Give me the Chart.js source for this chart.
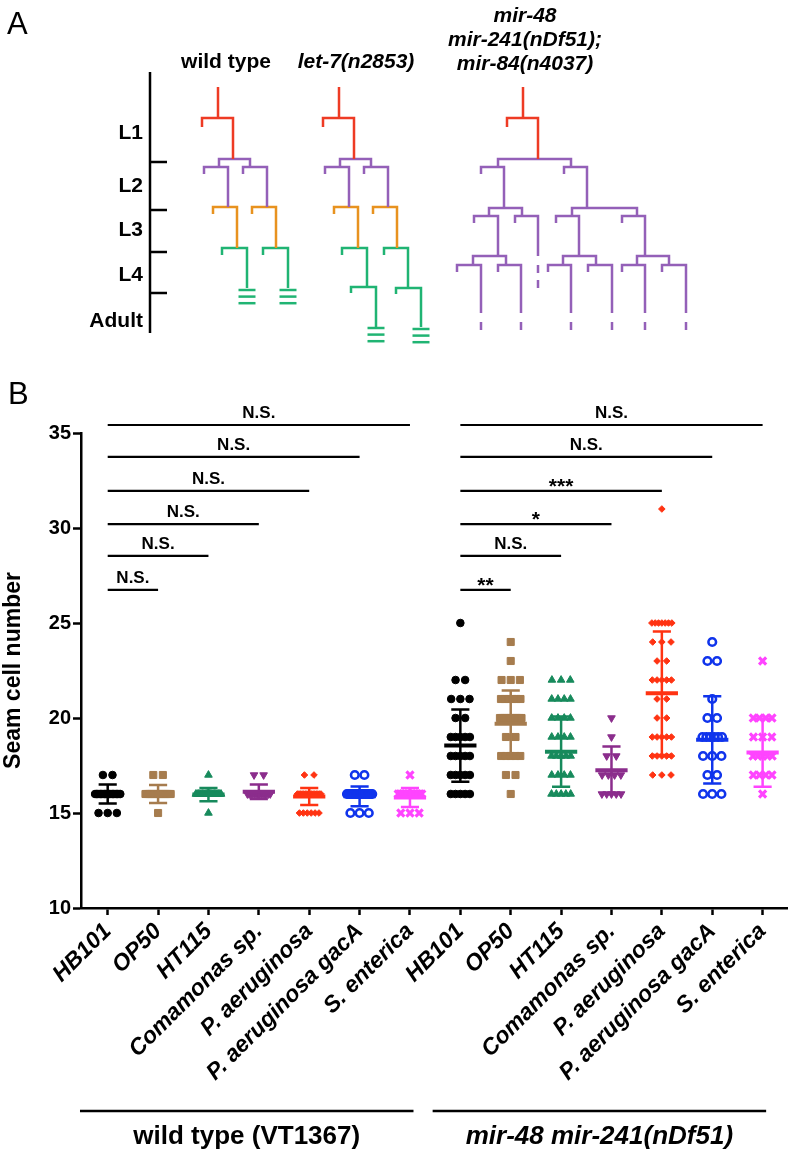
<!DOCTYPE html>
<html>
<head>
<meta charset="utf-8">
<script src="https://cdn.jsdelivr.net/npm/chart.js@4.4.1/dist/chart.umd.min.js"></script>
<style>
  html, body { margin: 0; padding: 0; background: #fff; }
  body { width: 796px; height: 1160px; position: relative; overflow: hidden;
         font-family: "Liberation Sans", Arial, Helvetica, sans-serif; color: #000; }
  .box { position: absolute; left: 0; }
  #boxA { top: 0; width: 796px; height: 350px; }
  #boxB { top: 380px; width: 796px; height: 780px; }
  .panel { position: absolute; font-size: 31px; line-height: 31px; }
  .head { position: absolute; font-weight: bold; font-size: 21px; line-height: 24px; text-align: center; }
</style>
</head>
<body>

<div class="box" id="boxA"><canvas id="chartA" width="796" height="350"></canvas></div>
<div class="box" id="boxB"><canvas id="chartB" width="796" height="780"></canvas></div>

<div class="panel" style="left:7px; top:8px;">A</div>
<div class="panel" style="left:8px; top:378px;">B</div>
<div class="head" style="left:156px; top:49px; width:140px;">wild type</div>
<div class="head" style="left:286px; top:49px; width:140px;"><i>let-7(n2853)</i></div>
<div class="head" style="left:415px; top:3px; width:220px;"><i>mir-48<br>mir-241(nDf51);<br>mir-84(n4037)</i></div>

<script>
const FONT = '"Liberation Sans", Arial, Helvetica, sans-serif';

// ---------- panel B data ----------
const bacteria = ['HB101', 'OP50', 'HT115', 'Comamonas sp.', 'P. aeruginosa', 'P. aeruginosa gacA', 'S. enterica'];
const strains = ['wild type (VT1367)', 'mir-48 mir-241(nDf51)'];
const categories = bacteria.concat(bacteria);

// seam cell number -> number of animals, per bacterium
const wtCounts = [
  [[17, 2], [16, 20], [15, 3]],
  [[17, 2], [16, 20], [15, 1]],
  [[17, 1], [16, 20], [15, 1]],
  [[17, 2], [16, 14]],
  [[17, 2], [16, 16], [15, 6]],
  [[17, 2], [16, 20], [15, 3]],
  [[17, 1], [16, 16], [15, 3]]
];
const mutCounts = [
  [[25, 1], [22, 2], [21, 3], [20, 2], [19, 5], [18, 5], [17, 5], [16, 5]],
  [[24, 1], [23, 1], [22, 3], [21, 6], [20, 11], [19, 2], [18, 5], [17, 2], [16, 1]],
  [[22, 3], [21, 4], [20, 4], [19, 4], [18, 5], [17, 4], [16, 5]],
  [[20, 1], [19, 1], [18, 2], [17, 4], [16, 5]],
  [[31, 1], [25, 7], [24, 3], [23, 2], [22, 5], [21, 2], [20, 2], [19, 5], [18, 5], [17, 3]],
  [[24, 1], [23, 2], [21, 1], [20, 2], [19, 6], [18, 3], [17, 2], [16, 3]],
  [[23, 1], [20, 4], [19, 3], [18, 5], [17, 4], [16, 1]]
];
const means = [16.0, 16.0, 15.97, 16.12, 15.87, 15.88, 15.82, 18.55, 19.7, 18.23, 17.25, 21.3, 18.85, 18.18];
const sds = [0.5, 0.47, 0.35, 0.38, 0.45, 0.52, 0.5, 1.9, 1.75, 1.85, 1.25, 3.25, 2.3, 1.8];

// comparisons against HB101 of the same strain
const sigFrom = [0, 0, 0, 0, 0, 0, 7, 7, 7, 7, 7, 7];
const sigTo = [1, 2, 3, 4, 5, 6, 8, 9, 10, 11, 12, 13];
const sigLevel = [26.74, 28.53, 30.2, 31.95, 33.74, 35.42, 26.74, 28.53, 30.2, 31.95, 33.74, 35.42];
const sigText = ['N.S.', 'N.S.', 'N.S.', 'N.S.', 'N.S.', 'N.S.', '**', 'N.S.', '*', '***', 'N.S.', 'N.S.'];

const colors = ['#000000', '#a67c4e', '#178a5c', '#8b2d8c', '#ff3312', '#1034ec', '#ff44ff'];
const markers = ['circle', 'rect', 'triangle', 'triangle', 'rectRot', 'circle', 'crossRot'];
const markerRot = [0, 0, 0, 180, 0, 0, 0];
const markerSize = [3.8, 5, 4.4, 4.4, 3.3, 3.8, 5];

// ---------- panel A data (developmental time runs down) ----------
const stages = ['L1', 'L2', 'L3', 'L4', 'Adult'];
const stageBounds = [9.0, 13.8, 18.0, 22.1];
const stageEnd = 26.1;
const stageLabelAt = [6.1, 11.4, 15.8, 20.3, 24.9];
const axisAt = 15.0;
const lineageColors = { L1: '#ee3b24', L2: '#9460b8', L3: '#e8921f', L4: '#20b473' };

// each path: stage, then x,t pairs
const wildEarly = [
  ['L1', 21.8, 1.5, 21.8, 4.6],
  ['L1', 20.2, 5.5, 20.2, 4.6, 23.3, 4.6, 23.3, 8.7],
  ['L2', 21.9, 9.5, 21.9, 8.7, 25.0, 8.7, 25.0, 9.5],
  ['L2', 20.4, 10.2, 20.4, 9.5, 22.8, 9.5, 22.8, 13.5],
  ['L2', 24.3, 10.2, 24.3, 9.5, 26.7, 9.5, 26.7, 13.5],
  ['L3', 21.3, 14.2, 21.3, 13.5, 23.7, 13.5, 23.7, 17.6],
  ['L3', 25.2, 14.2, 25.2, 13.5, 27.6, 13.5, 27.6, 17.6]
];
const wildL4 = [
  ['L4', 22.2, 18.3, 22.2, 17.6, 24.7, 17.6, 24.7, 21.6],
  ['L4', 26.3, 18.3, 26.3, 17.6, 28.8, 17.6, 28.8, 21.6]
];
const let7Shift = 12.1;
const let7L4 = [
  ['L4', 34.2, 18.3, 34.2, 17.6, 36.7, 17.6, 36.7, 21.5],
  ['L4', 35.1, 22.1, 35.1, 21.5, 37.6, 21.5, 37.6, 25.5],
  ['L4', 38.4, 18.3, 38.4, 17.6, 40.8, 17.6, 40.8, 21.6],
  ['L4', 39.6, 22.2, 39.6, 21.6, 42.1, 21.6, 42.1, 25.5]
];
const fusedEnds = [[24.7, 21.8], [28.8, 21.8], [37.6, 25.6], [42.1, 25.7]];
const mirTree = [
  ['L1', 52.3, 1.5, 52.3, 4.6],
  ['L1', 50.7, 5.5, 50.7, 4.6, 53.8, 4.6, 53.8, 8.7],
  ['L2', 49.8, 9.5, 49.8, 8.7, 57.1, 8.7, 57.1, 9.5],
  ['L2', 48.1, 10.2, 48.1, 9.5, 50.4, 9.5, 50.4, 13.6],
  ['L2', 56.4, 10.2, 56.4, 9.5, 58.7, 9.5, 58.7, 13.6],
  ['L2', 48.9, 14.4, 48.9, 13.6, 52.2, 13.6, 52.2, 14.4],
  ['L2', 47.4, 15.1, 47.4, 14.4, 49.8, 14.4, 49.8, 18.4],
  ['L2', 51.5, 15.1, 51.5, 14.4, 53.8, 14.4, 53.8, 18.4],
  ['L2', 57.2, 14.4, 57.2, 13.6, 63.7, 13.6, 63.7, 14.4],
  ['L2', 55.6, 15.1, 55.6, 14.4, 57.9, 14.4, 57.9, 18.4],
  ['L2', 62.2, 15.1, 62.2, 14.4, 64.5, 14.4, 64.5, 18.4],
  ['L2', 47.3, 19.3, 47.3, 18.4, 50.6, 18.4, 50.6, 19.3],
  ['L2', 45.7, 20.0, 45.7, 19.3, 48.1, 19.3, 48.1, 24.1],
  ['L2', 49.8, 20.0, 49.8, 19.3, 52.1, 19.3, 52.1, 24.1],
  ['L2', 56.3, 19.3, 56.3, 18.4, 59.6, 18.4, 59.6, 19.3],
  ['L2', 54.8, 20.0, 54.8, 19.3, 57.1, 19.3, 57.1, 24.1],
  ['L2', 58.8, 20.0, 58.8, 19.3, 61.2, 19.3, 61.2, 24.1],
  ['L2', 63.7, 19.3, 63.7, 18.4, 66.9, 18.4, 66.9, 19.3],
  ['L2', 62.2, 20.0, 62.2, 19.3, 64.5, 19.3, 64.5, 24.1],
  ['L2', 66.2, 20.0, 66.2, 19.3, 68.6, 19.3, 68.6, 24.1],
  ['L2', 53.8, 19.3, 53.8, 20.1],
  ['L2', 53.8, 20.8, 53.8, 21.6]
];
const mirDashEnds = [48.1, 52.1, 57.1, 61.2, 64.5, 68.6];

// ---------- panel A ----------
function pathDataset(p, dx) {
  let pts = [];
  for (let i = 1; i < p.length; i += 2) {
    pts.push({ x: p[i] + dx, y: p[i + 1] });
  }
  return {
    data: pts, showLine: true, borderColor: lineageColors[p[0]], borderWidth: 2.5,
    pointRadius: 0, clip: false, tension: 0, borderJoinStyle: 'miter'
  };
}

let treeSets = [];
wildEarly.forEach(p => treeSets.push(pathDataset(p, 0)));
wildEarly.forEach(p => treeSets.push(pathDataset(p, let7Shift)));
wildL4.concat(let7L4).concat(mirTree).forEach(p => treeSets.push(pathDataset(p, 0)));
// fused seam cells at the adult moult (three bars)
fusedEnds.forEach(([x, t]) => {
  for (let k = 0; k < 3; k++) {
    let tt = t + k * 0.66;
    treeSets.push(pathDataset(['L4', x - 0.85, tt, x + 0.85, tt], 0));
  }
});
mirDashEnds.forEach(x => treeSets.push(pathDataset(['L2', x, 25.0, x, 25.8], 0)));

const stageAxis = {
  id: 'stageAxis',
  afterDatasetsDraw(chart) {
    const { ctx, scales: { x, y } } = chart;
    const ax = x.getPixelForValue(axisAt);
    ctx.save();
    ctx.strokeStyle = '#000';
    ctx.lineWidth = 2.5;
    ctx.beginPath();
    ctx.moveTo(ax, y.getPixelForValue(0));
    ctx.lineTo(ax, y.getPixelForValue(stageEnd));
    stageBounds.forEach(b => {
      let py = y.getPixelForValue(b);
      ctx.moveTo(ax, py);
      ctx.lineTo(ax + 17, py);
    });
    ctx.stroke();
    ctx.fillStyle = '#000';
    ctx.font = 'bold 21px ' + FONT;
    ctx.textAlign = 'right';
    ctx.textBaseline = 'middle';
    stages.forEach((s, k) => ctx.fillText(s, ax - 7, y.getPixelForValue(stageLabelAt[k])));
    ctx.restore();
  }
};

new Chart(document.getElementById('chartA'), {
  type: 'scatter',
  data: { datasets: treeSets },
  options: {
    responsive: false,
    animation: false,
    events: [],
    layout: { padding: { top: 72, bottom: 350 - 333, left: 0, right: 0 } },
    scales: {
      x: { display: false, min: 0, max: 79.6 },
      y: { display: false, min: 0, max: stageEnd, reverse: true }
    },
    plugins: { legend: { display: false }, tooltip: { enabled: false } }
  },
  plugins: [stageAxis]
});

// ---------- panel B ----------
function spread(rows, idx) {
  let pts = [];
  rows.forEach(([v, n]) => {
    let span = Math.min(0.19 * (n - 1), 0.34 + 0.008 * n);
    let step = n > 1 ? span / (n - 1) : 0;
    for (let k = 0; k < n; k++) {
      pts.push({ x: idx + (k - (n - 1) / 2) * step, y: v });
    }
  });
  return pts;
}

let sets = [];
categories.forEach((c, i) => {
  let b = i % 7;
  let rows = i < 7 ? wtCounts[b] : mutCounts[b];
  let open = b === 5;
  sets.push({
    data: spread(rows, i),
    pointStyle: markers[b],
    pointRotation: markerRot[b],
    pointRadius: markerSize[b],
    pointBackgroundColor: open ? 'rgba(0,0,0,0)' : colors[b],
    pointBorderColor: colors[b],
    pointBorderWidth: open ? 2.6 : (b === 6 ? 3.2 : 1),
    order: 2
  });
  let m = means[i], s = sds[i];
  sets.push({
    data: [{ x: i - 0.32, y: m }, { x: i + 0.32, y: m }],
    showLine: true, borderColor: colors[b], borderWidth: 4, pointRadius: 0, order: 1
  });
  sets.push({
    data: [
      { x: i - 0.18, y: m + s }, { x: i + 0.18, y: m + s }, { x: i, y: m + s },
      { x: i, y: m - s }, { x: i - 0.18, y: m - s }, { x: i + 0.18, y: m - s }
    ],
    showLine: true, borderColor: colors[b], borderWidth: 2.5, pointRadius: 0, order: 1
  });
});
sigFrom.forEach((f, k) => {
  sets.push({
    data: [{ x: f, y: sigLevel[k] }, { x: sigTo[k], y: sigLevel[k] }],
    showLine: true, borderColor: '#000', borderWidth: 2.2, pointRadius: 0, clip: false, order: 0
  });
});

const annotate = {
  id: 'annotate',
  afterDatasetsDraw(chart) {
    const { ctx, chartArea, scales: { x, y } } = chart;
    ctx.save();
    ctx.fillStyle = '#000';
    ctx.textAlign = 'center';
    ctx.textBaseline = 'alphabetic';
    sigText.forEach((t, k) => {
      let cx = (x.getPixelForValue(sigFrom[k]) + x.getPixelForValue(sigTo[k])) / 2;
      let py = y.getPixelForValue(sigLevel[k]);
      let star = t.charAt(0) === '*';
      ctx.font = star ? 'bold 21px ' + FONT : 'bold 17px ' + FONT;
      ctx.fillText(t, cx, star ? py + 2 : py - 7);
    });
    // strain brackets under the axis
    let ly = chartArea.bottom + 203;
    ctx.strokeStyle = '#000';
    ctx.lineWidth = 2.5;
    strains.forEach((s, g) => {
      let first = g * 7, last = g * 7 + 6;
      let x0 = x.getPixelForValue(first - 0.55), x1 = x.getPixelForValue(last + 0.07);
      ctx.beginPath();
      ctx.moveTo(x0, ly);
      ctx.lineTo(x1, ly);
      ctx.stroke();
      ctx.font = (g === 1 ? 'italic ' : '') + 'bold 26px ' + FONT;
      ctx.textBaseline = 'middle';
      ctx.fillText(s, (x0 + x1) / 2, chartArea.bottom + 229);
    });
    ctx.restore();
  }
};

new Chart(document.getElementById('chartB'), {
  type: 'scatter',
  data: { datasets: sets },
  options: {
    responsive: false,
    animation: false,
    events: [],
    layout: { padding: { top: 53, bottom: 0, left: 0, right: 1 } },
    scales: {
      x: {
        type: 'linear',
        min: -0.53,
        max: 13.5,
        afterBuildTicks: (scale) => { scale.ticks = categories.map((c, i) => ({ value: i })); },
        afterFit: (scale) => { scale.height = 252; },
        border: { color: '#000', width: 2.5 },
        grid: { drawOnChartArea: false, tickLength: 7, tickWidth: 2.5, tickColor: '#000' },
        ticks: {
          autoSkip: false, minRotation: 45, maxRotation: 45, padding: 3, color: '#000',
          font: { family: FONT, size: 23, weight: 'bold', style: 'italic' },
          callback: (v) => categories[v]
        }
      },
      y: {
        min: 10,
        max: 35,
        afterFit: (scale) => { scale.width = 81; },
        border: { color: '#000', width: 2.5 },
        grid: { drawOnChartArea: false, tickLength: 8, tickWidth: 2.5, tickColor: '#000' },
        ticks: { stepSize: 5, padding: 2, color: '#000', font: { family: FONT, size: 20, weight: 'bold' } },
        title: {
          display: true, text: 'Seam cell number', color: '#000', padding: 0,
          font: { family: FONT, size: 23, weight: 'bold' }
        }
      }
    },
    plugins: { legend: { display: false }, tooltip: { enabled: false } }
  },
  plugins: [annotate]
});
</script>
</body>
</html>
